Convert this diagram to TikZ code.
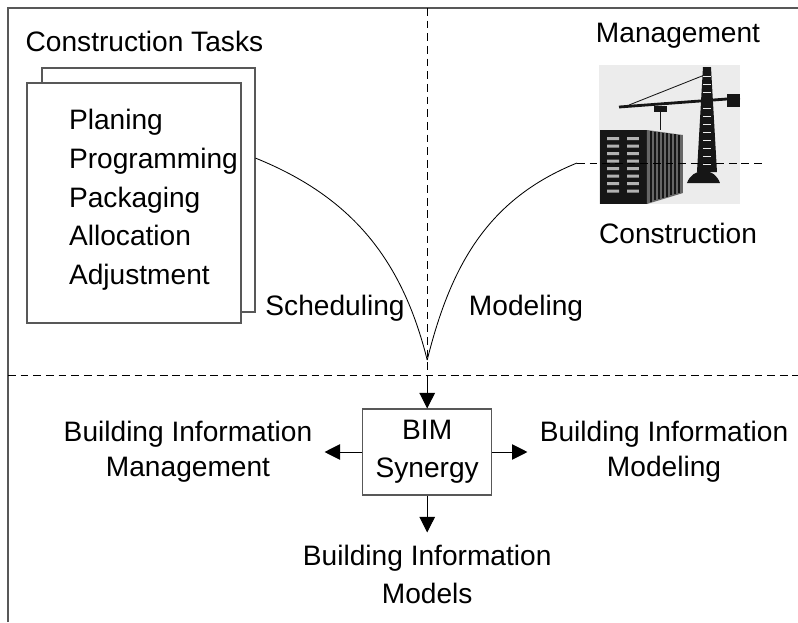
\documentclass[tikz,border=0pt]{standalone}
\usepackage{fontspec}
\setmainfont{Liberation Sans}
\usepackage{xcolor}
\usepackage{tikz}
\usetikzlibrary{calc,arrows.meta,positioning}
\definecolor{bimFrame}{RGB}{88,88,88}
\definecolor{bimPhoto}{RGB}{236,236,236}
\definecolor{bimDark}{RGB}{22,22,22}

\tikzset{
    page/.style={draw=bimFrame, fill=white, line width=0.8pt},
    txt/.style={align=center, inner sep=0pt},
    bimbox/.style={draw=bimFrame, line width=0.8pt, minimum width=3.225cm, minimum height=2.15cm, align=center, inner sep=0pt},
    flow/.style={line width=0.7pt, -{Triangle[length=11pt,width=11pt]}},
    sep/.style={line width=0.7pt, dash pattern=on 5.5pt off 3.5pt},
}

\begin{document}
\begin{tikzpicture}[x=1.0cm,y=1.0cm, font=\fontsize{20}{27}\selectfont]
    \useasboundingbox (0,0) rectangle (19.95,15.55);

    % outer frame and quadrant lines
    \draw[bimFrame, line width=1pt] (0.2,0) -- (0.2,15.35) -- (19.95,15.35);
    \coordinate (qtop) at (10.68,15.35);
    \coordinate (qmid) at (10.68,6.175);
    \draw[sep] (qtop) -- (qmid);
    \draw[sep] (0.2,6.175) -- (19.95,6.175);

    % task sheets
    \node[txt] (ctasks) at (3.61,14.525) {Construction Tasks};
    \node[page, minimum width=5.325cm, minimum height=6.1cm] (back) at (3.7125,10.8) {};
    \node[page, minimum width=5.35cm, minimum height=6.0cm] (front) at (3.35,10.475) {};
    \node[txt, align=left, anchor=west, font=\fontsize{20}{27.5}\selectfont] (tasks) at (1.72,10.55)
        {Planing\\Programming\\Packaging\\Allocation\\Adjustment};

    \node[txt] (sched) at (8.375,7.85) {Scheduling};
    \node[txt] (model) at (13.15,7.85) {Modeling};

    % site photo
    \node[txt] (mgmt) at (16.95,14.65) {Management};
    \node[txt] (constr) at (16.95,9.725) {Construction};
    \begin{scope}[shift={(14.975,10.45)}, x=0.025cm, y=0.025cm]
        \fill[bimPhoto] (0,0) rectangle (141,139);
        % building, front with windows
        \fill[bimDark] (1,0) rectangle (48,74);
        \foreach \v in {11.5,19,...,64}
            \fill[white!70!black] (8,\v) rectangle (20,\v+3) (28,\v) rectangle (40,\v+3);
        % building, side
        \fill[black!60] (48,0) -- (84,11) -- (84,69) -- (48,74) -- cycle;
        \foreach \u in {52,56,...,80}
            \draw[bimDark, line width=0.8pt] (\u,{1.2+0.305*(\u-48)}) -- (\u,{73.5-0.14*(\u-48)});
        % crane
        \fill[bimDark] (98,32) -- (118,32) -- (112,137) -- (104,137) -- cycle;
        \foreach \v in {40,48,...,128}
            \draw[bimPhoto, line width=0.5pt] (104,\v) -- (112,\v);
        \draw[bimDark, line width=2pt] (20,97) -- (141,106);
        \draw[bimDark, line width=0.6pt] (108,130) -- (30,99);
        \fill[bimDark] (128,97) rectangle (141,110);
        \fill[bimDark] (55,92) rectangle (68,98);
        \draw[bimDark, line width=0.6pt] (61,92) -- (61,74);
        \fill[bimDark] (88,21) to[out=70,in=180] (105,33) to[out=0,in=110] (121,21) -- cycle;
    \end{scope}

    % scheduling and modeling branches
    \coordinate (cusp) at (10.68,6.55);
    \coordinate (mend) at (14.425,11.475);
    \draw[line width=0.6pt] ($(back.north east)!0.37!(back.south east)$) to[out=-22,in=104] (cusp);
    \draw[line width=0.6pt] (cusp) to[out=76,in=-158] (mend);
    \draw[sep] (mend) -- (19.075,11.475);

    % BIM synergy
    \node[bimbox] (bim) at (10.68,4.25) {BIM\\Synergy};
    \node[txt, font=\fontsize{20}{25}\selectfont] (bimmgmt) at (4.7,4.25) {Building Information\\Management};
    \node[txt, font=\fontsize{20}{25}\selectfont] (bimmod) at (16.6,4.25) {Building Information\\Modeling};
    \node[txt] (bimmodels) at (10.68,1.2) {Building Information\\Models};

    \draw[flow] (qmid) -- (bim.north);
    \draw[flow, shorten >=0.3cm] (bim.west) -- (bimmgmt.east);
    \draw[flow, shorten >=0.3cm] (bim.east) -- (bimmod.west);
    \draw[flow, shorten >=0.3cm] (bim.south) -- (bimmodels.north);
\end{tikzpicture}
\end{document}
